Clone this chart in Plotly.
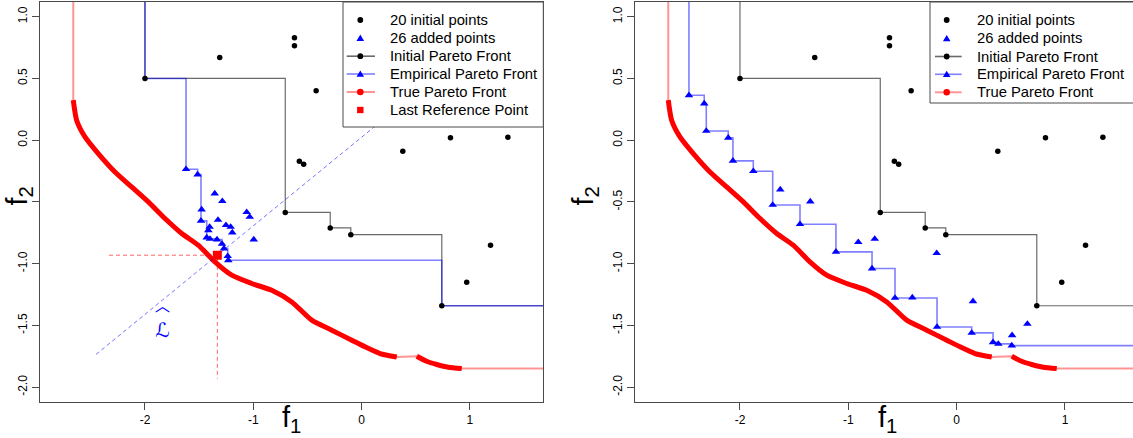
import plotly.graph_objects as go

W, H = 1133, 438
FONT = "Liberation Sans, Arial, sans-serif"

# ---------------- data ----------------
# initial design points (shared by both panels)
init_x = [-2.00, -1.31, -0.62, -0.62, -0.42, -0.575, -0.535, 0.38, 0.82, 1.35,
          -0.705, -0.29, -0.10, 1.19, 0.97, 0.74]
init_y = [0.50, 0.67, 0.83, 0.765, 0.40, -0.17, -0.195, -0.09, 0.02, 0.025,
          -0.585, -0.71, -0.765, -0.85, -1.15, -1.34]

# initial Pareto front (staircase; first/last points are the open ends)
ipf_x = [-2.00, -2.00, -0.705, -0.29, -0.10, 0.74, 10.0]
ipf_y = [10.0, 0.50, -0.585, -0.71, -0.765, -1.34, -1.34]

# left panel: added points
addL_x = [-1.621, -1.514, -1.356, -1.286, -1.477, -1.061, -1.033, -1.483, -1.326, -1.403, -1.252,
          -1.209, -1.194, -1.415, -1.430, -1.400, -1.335, -1.289, -0.996, -1.271, -1.236, -1.231]
addL_y = [-0.235, -0.278, -0.432, -0.494, -0.561, -0.583, -0.621, -0.653, -0.645, -0.702, -0.688,
          -0.702, -0.748, -0.729, -0.788, -0.799, -0.804, -0.840, -0.804, -0.877, -0.939, -0.972]
# left panel: empirical Pareto front
epfL_x = [-2.00, -2.00, -1.621, -1.514, -1.483, -1.430, -1.400, -1.335, -1.289, -1.271, -1.236, -1.231, 0.74, 10.0]
epfL_y = [10.0, 0.50, -0.235, -0.278, -0.653, -0.788, -0.799, -0.804, -0.840, -0.877, -0.939, -0.972, -1.34, -1.34]
# left panel: highlighted point and last reference point
hlL = (-1.356, -0.432)
ref_pt = (-1.332, -0.931)
ref_len = 1.0
lhat_slope = 0.717
lhat_t = (-1.12, 1.9)

# right panel: added points
addR_x = [-2.471, -2.330, -2.311, -2.108, -2.065, -1.877, -1.628, -1.698, -1.351, -1.446, -1.114, -0.908, -0.756,
          -0.781, -0.184, -0.569, -0.409, 0.151, -0.181, 0.139, 0.336, 0.385, 0.509, 0.512, 0.653]
addR_y = [0.364, 0.297, 0.075, 0.019, -0.167, -0.251, -0.400, -0.524, -0.497, -0.680, -0.904, -0.826, -0.799,
          -1.039, -0.915, -1.277, -1.274, -1.304, -1.512, -1.560, -1.636, -1.649, -1.663, -1.579, -1.487]
epfR_x = [-2.471, -2.471, -2.330, -2.311, -2.108, -2.065, -1.877, -1.698, -1.446, -1.114, -0.781, -0.569,
          -0.181, 0.139, 0.336, 0.385, 0.509, 10.0]
epfR_y = [10.0, 0.364, 0.297, 0.075, 0.019, -0.167, -0.251, -0.524, -0.680, -0.904, -1.039, -1.277,
          -1.512, -1.560, -1.636, -1.649, -1.663, -1.663]
hlR = (0.512, -1.579)

# true Pareto front
tpf_x = [-2.662, -2.631, -2.554, -2.431, -2.277, -2.123, -1.969, -1.815, -1.661, -1.508, -1.354, -1.199,
         -1.015, -0.830, -0.645, -0.461, -0.276, -0.091, 0.031, 0.170, 0.324, 0.509, 0.600, 0.693, 0.800, 0.924]
tpf_y = [0.324, 0.162, 0.027, -0.108, -0.257, -0.378, -0.499, -0.634, -0.755, -0.850, -0.985, -1.093,
         -1.160, -1.215, -1.309, -1.457, -1.538, -1.619, -1.673, -1.727, -1.755, -1.749, -1.790, -1.816, -1.838, -1.849]
tpf_gap = (0.324, 0.509)

x_ticks = [-2, -1, 0, 1]
x_ticktext = ["-2", "-1", "0", "1"]
y_ticks = [-2.0, -1.5, -1.0, -0.5, 0.0, 0.5, 1.0]
y_ticktext = ["-2.0", "-1.5", "-1.0", "-0.5", "0.0", "0.5", "1.0"]
y_ticktext_left = ["-2.0", "-1.5", "-1.0", " ", "0.0", "0.5", "1.0"]

legend_left = ["20 initial points", "26 added points", "Initial Pareto Front",
               "Empirical Pareto Front", "True Pareto Front", "Last Reference Point"]
legend_right = legend_left[:5]

# ---------------- styles ----------------
C_FRAME = "#4a4a4a"
C_GREY = "#6a6a6a"
C_BLUE_LINE = "rgba(0,0,255,0.5)"
C_PINK = "rgba(255,0,0,0.42)"

fig = go.Figure()


def panel_traces(xa, ya, add_x, add_y, epf_x, epf_y, hl):
    # true front thin line (full extent)
    fig.add_trace(go.Scatter(x=[tpf_x[0]] + tpf_x + [10.0], y=[10.0] + tpf_y + [tpf_y[-1]],
                             mode="lines", line=dict(color=C_PINK, width=2),
                             xaxis=xa, yaxis=ya, showlegend=False, hoverinfo="skip"))
    # true front thick segments
    tx, ty = [], []
    for xv, yv in zip(tpf_x, tpf_y):
        if tx and tx[-1] is not None and tx[-1] <= tpf_gap[0] and xv >= tpf_gap[1]:
            tx.append(None); ty.append(None)
        tx.append(xv); ty.append(yv)
    fig.add_trace(go.Scatter(x=tx, y=ty, mode="lines", connectgaps=False,
                             line=dict(color="#ff0000", width=5, shape="spline", smoothing=0.6),
                             xaxis=xa, yaxis=ya, showlegend=False, hoverinfo="skip"))
    # initial front
    fig.add_trace(go.Scatter(x=ipf_x, y=ipf_y, mode="lines", line=dict(color=C_GREY, width=1.2, shape="hv"),
                             xaxis=xa, yaxis=ya, showlegend=False, hoverinfo="skip"))
    # empirical front
    fig.add_trace(go.Scatter(x=epf_x, y=epf_y, mode="lines", line=dict(color=C_BLUE_LINE, width=1.6, shape="hv"),
                             xaxis=xa, yaxis=ya, showlegend=False, hoverinfo="skip"))
    # initial points
    fig.add_trace(go.Scatter(x=init_x, y=init_y, mode="markers",
                             marker=dict(color="black", size=5.5, symbol="circle"),
                             xaxis=xa, yaxis=ya, showlegend=False))
    # added points
    fig.add_trace(go.Scatter(x=add_x, y=add_y, mode="markers",
                             marker=dict(color="#0000ff", size=7.5, symbol="triangle-up"),
                             xaxis=xa, yaxis=ya, showlegend=False))
    # highlighted point
    fig.add_trace(go.Scatter(x=[hl[0]], y=[hl[1]], mode="markers",
                             marker=dict(color="rgba(0,0,0,0)", size=12, symbol="diamond-open",
                                         line=dict(color="#ff4040", width=1.2)),
                             xaxis=xa, yaxis=ya, showlegend=False))


panel_traces("x", "y", addL_x, addL_y, epfL_x, epfL_y, hlL)

# reference point decorations (left)
fig.add_trace(go.Scatter(x=[ref_pt[0] - ref_len, ref_pt[0], ref_pt[0]],
                         y=[ref_pt[1], ref_pt[1], ref_pt[1] - ref_len],
                         mode="lines", line=dict(color="rgba(255,0,0,0.6)", width=1, dash="4px,3px"),
                         xaxis="x", yaxis="y", showlegend=False))
fig.add_trace(go.Scatter(x=[ref_pt[0] + t for t in lhat_t],
                         y=[ref_pt[1] + lhat_slope * t for t in lhat_t],
                         mode="lines", line=dict(color="rgba(0,0,255,0.55)", width=1, dash="4px,3px"),
                         xaxis="x", yaxis="y", showlegend=False))
fig.add_trace(go.Scatter(x=[ref_pt[0]], y=[ref_pt[1]], mode="markers",
                         marker=dict(color="#ff0000", size=9, symbol="square"),
                         xaxis="x", yaxis="y", showlegend=False))

panel_traces("x2", "y2", addR_x, addR_y, epfR_x, epfR_y, hlR)

# ---------------- axes ----------------
XR_L = [-2.969, 1.677]
XR_R = [-2.969, 1.628]
YR = [-2.117, 1.119]
ydom = [1 - 401.7 / H, 1 - 2 / H]


def xaxis(dom, rng, mirror):
    return dict(domain=dom, range=rng, showgrid=False, zeroline=False, showline=True, mirror=mirror,
                linecolor=C_FRAME, linewidth=1, ticks="outside", ticklen=7, tickcolor=C_FRAME,
                tickvals=x_ticks, ticktext=x_ticktext, tickfont=dict(family=FONT, size=12, color="black"))


def yaxis(rng, mirror, ticktext, anchor):
    return dict(domain=ydom, range=rng, showgrid=False, zeroline=False, showline=True, mirror=mirror,
                linecolor=C_FRAME, linewidth=1, ticks="outside", ticklen=7, tickcolor=C_FRAME,
                tickvals=y_ticks, ticktext=ticktext, tickangle=-90, anchor=anchor,
                tickfont=dict(family=FONT, size=12, color="black"))


fig.update_layout(
    width=W, height=H, margin=dict(l=0, r=0, t=0, b=0),
    paper_bgcolor="white", plot_bgcolor="white", showlegend=False,
    xaxis=xaxis([40 / W, 543.3 / W], XR_L, True),
    yaxis=yaxis(YR, True, y_ticktext_left, "x"),
    xaxis2=dict(xaxis([635 / W, 1.0], XR_R, True), anchor="y2"),
    yaxis2=yaxis(YR, False, y_ticktext, "x2"),
)

# ---------------- annotations: axis titles ----------------
ann = []
for px_center in (291.5, 887):
    ann.append(dict(text="f<sub>1</sub>", xref="paper", yref="paper", x=px_center / W, y=1 - 419 / H,
                    xanchor="center", yanchor="middle", showarrow=False,
                    font=dict(family=FONT, size=29, color="black")))
for px in (18.5, 584.5):
    ann.append(dict(text="f<sub>2</sub>", xref="paper", yref="paper", x=px / W, y=1 - 196 / H,
                    xanchor="center", yanchor="middle", textangle=-90, showarrow=False,
                    font=dict(family=FONT, size=29, color="black")))
# L-hat label (hat over calligraphic L)
ann.append(dict(text="<span style='font-family:Noto Sans CJK SC;font-size:15px'>\uFE3F</span><br>\u2112",
                xref="x", yref="y", x=-1.836, y=-1.44, showarrow=False, align="center",
                font=dict(family="DejaVu Serif, DejaVu Sans", size=20, color="#0000ff")))

# ---------------- manual legends (R style) ----------------
shapes = []


def P(px, py):
    return px / W, 1 - py / H


def legend(box, labels, sym_x, line_x0, line_x1, text_x, rows):
    x0, y0 = P(box[0], box[1])
    x1, y1 = P(box[2], box[3])
    shapes.append(dict(type="rect", xref="paper", yref="paper", x0=x0, x1=x1, y0=y1, y1=y0,
                       fillcolor="white", line=dict(color=C_FRAME, width=1), layer="above"))
    kinds = ["dot", "tri", "line_dot", "line_tri", "line_red", "square"]
    for lab, kind, ry in zip(labels, kinds, rows):
        if kind.startswith("line"):
            col = {"line_dot": C_GREY, "line_tri": C_BLUE_LINE, "line_red": C_PINK}[kind]
            a, b = P(line_x0, ry)
            c, _ = P(line_x1, ry)
            shapes.append(dict(type="line", xref="paper", yref="paper", x0=a, x1=c, y0=b, y1=b,
                               line=dict(color=col, width=1.6 if kind != "line_red" else 2), layer="above"))
        if kind in ("dot", "line_dot", "line_red"):
            r = 2.9 if kind != "line_red" else 3.3
            col = "black" if kind != "line_red" else "#ff0000"
            a, b = P(sym_x - r, ry - r)
            c, d = P(sym_x + r, ry + r)
            shapes.append(dict(type="circle", xref="paper", yref="paper", x0=a, x1=c, y0=d, y1=b,
                               fillcolor=col, line=dict(width=0), layer="above"))
        if kind in ("tri", "line_tri"):
            pts = [P(sym_x - 3.8, ry + 2.7), P(sym_x + 3.8, ry + 2.7), P(sym_x, ry - 3.6)]
            path = "M {:.5f},{:.5f} L {:.5f},{:.5f} L {:.5f},{:.5f} Z".format(*pts[0], *pts[1], *pts[2])
            shapes.append(dict(type="path", xref="paper", yref="paper", path=path,
                               fillcolor="#0000ff", line=dict(width=0), layer="above"))
        if kind == "square":
            a, b = P(sym_x - 3.2, ry - 3.2)
            c, d = P(sym_x + 3.2, ry + 3.2)
            shapes.append(dict(type="rect", xref="paper", yref="paper", x0=a, x1=c, y0=d, y1=b,
                               fillcolor="#ff0000", line=dict(width=0), layer="above"))
        tx, ty = P(text_x, ry)
        ann.append(dict(text=lab, xref="paper", yref="paper", x=tx, y=ty, xanchor="left", yanchor="middle",
                        showarrow=False, font=dict(family=FONT, size=14.8, color="black")))


legend((343, 2, 543.3, 127), legend_left, 360.3, 346.7, 375, 388.3, [20, 38.2, 56.2, 74, 92, 110])
legend((930, 2, 1138.3, 103), legend_right, 946.7, 935, 961.7, 975, [20, 38.5, 56.5, 74.3, 92.3])

fig.update_layout(annotations=ann, shapes=shapes)
fig.write_html("out.html", config={"displayModeBar": False},
               post_script="document.body.style.margin='0';document.body.style.overflow='hidden';")
